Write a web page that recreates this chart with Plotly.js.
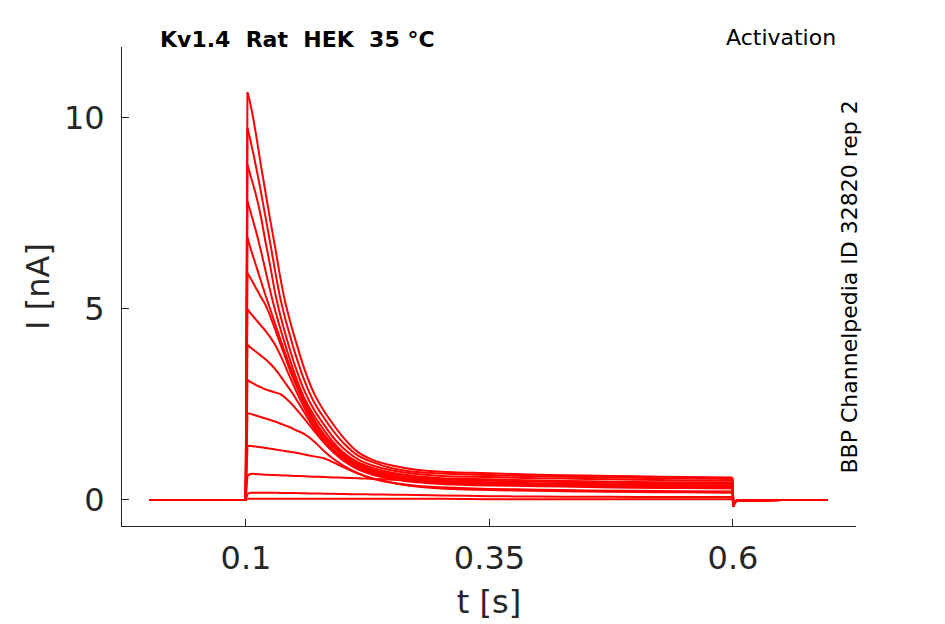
<!DOCTYPE html>
<html>
<head>
<meta charset="utf-8">
<script src="https://cdn.plot.ly/plotly-3.0.1.min.js"></script>
<style>
	body { margin: 0; background: #fff; }
	#grafico { width: 945px; height: 624px; }
</style>
</head>
<body>
<div id="grafico"></div>
<script>
// holding level before the pulse
const tBase = [0.001, 0.05, 0.0997];
const iBase = [0, 0, 0];

// during the step (one array per voltage step)
const tPulse = [0.1015, 0.105, 0.11, 0.115, 0.12, 0.125, 0.13, 0.135, 0.14, 0.145, 0.15,
	0.16, 0.17, 0.18, 0.19, 0.2, 0.215, 0.23, 0.25, 0.275, 0.3, 0.35, 0.4, 0.45, 0.5, 0.55, 0.5995];

const step13 = [10.66, 10.3, 9.6, 8.8, 8.05, 7.3, 6.6, 5.85, 5.2, 4.7, 4.25, 3.42, 2.78, 2.33, 1.96, 1.63, 1.25, 1.05, 0.9, 0.79, 0.74, 0.7, 0.66, 0.64, 0.62, 0.6, 0.59];
const step12 = [9.72, 9.35, 8.75, 8.1, 7.4, 6.7, 5.97, 5.3, 4.77, 4.31, 3.87, 3.12, 2.55, 2.15, 1.79, 1.49, 1.16, 0.99, 0.83, 0.73, 0.69, 0.65, 0.62, 0.6, 0.58, 0.56, 0.55];
const step11 = [8.76, 8.45, 8.0, 7.45, 6.75, 6.1, 5.4, 4.85, 4.38, 3.94, 3.53, 2.85, 2.35, 1.97, 1.62, 1.35, 1.06, 0.9, 0.77, 0.68, 0.63, 0.6, 0.57, 0.55, 0.53, 0.51, 0.5];
const step10 = [7.81, 7.5, 7.05, 6.55, 6.0, 5.45, 4.95, 4.5, 4.08, 3.68, 3.3, 2.66, 2.2, 1.83, 1.5, 1.24, 0.98, 0.84, 0.71, 0.62, 0.57, 0.54, 0.51, 0.49, 0.47, 0.46, 0.45];
const step9 = [6.86, 6.55, 6.15, 5.75, 5.35, 4.98, 4.6, 4.22, 3.86, 3.5, 3.18, 2.58, 2.1, 1.72, 1.43, 1.2, 0.94, 0.79, 0.67, 0.58, 0.54, 0.5, 0.48, 0.46, 0.44, 0.43, 0.42];
const step8 = [5.93, 5.78, 5.55, 5.32, 5.1, 4.8, 4.45, 4.1, 3.75, 3.4, 3.08, 2.5, 2.02, 1.65, 1.37, 1.15, 0.9, 0.75, 0.63, 0.54, 0.5, 0.46, 0.44, 0.42, 0.4, 0.39, 0.38];
const step7 = [4.99, 4.87, 4.72, 4.57, 4.42, 4.25, 4.05, 3.8, 3.52, 3.22, 2.93, 2.4, 1.94, 1.58, 1.3, 1.1, 0.86, 0.71, 0.6, 0.51, 0.47, 0.43, 0.41, 0.39, 0.37, 0.36, 0.35];
const step6 = [4.06, 3.98, 3.88, 3.78, 3.68, 3.56, 3.42, 3.25, 3.07, 2.89, 2.7, 2.28, 1.87, 1.52, 1.25, 1.05, 0.82, 0.68, 0.57, 0.48, 0.44, 0.4, 0.38, 0.36, 0.34, 0.33, 0.32];
const step5 = [3.14, 3.08, 3.01, 2.95, 2.89, 2.85, 2.81, 2.77, 2.68, 2.56, 2.42, 2.12, 1.8, 1.5, 1.24, 1.03, 0.8, 0.66, 0.55, 0.46, 0.42, 0.38, 0.36, 0.34, 0.32, 0.31, 0.3];
const step4 = [2.27, 2.25, 2.21, 2.17, 2.13, 2.09, 2.05, 2.0, 1.95, 1.9, 1.84, 1.72, 1.53, 1.28, 1.07, 0.9, 0.7, 0.56, 0.45, 0.37, 0.33, 0.29, 0.27, 0.25, 0.24, 0.23, 0.22];
const step3 = [1.42, 1.41, 1.4, 1.38, 1.36, 1.34, 1.32, 1.3, 1.28, 1.26, 1.24, 1.19, 1.14, 1.09, 0.98, 0.86, 0.69, 0.56, 0.45, 0.35, 0.3, 0.26, 0.24, 0.22, 0.21, 0.2, 0.19];
const step2 = [0.64, 0.68, 0.68, 0.67, 0.66, 0.655, 0.65, 0.645, 0.64, 0.635, 0.63, 0.62, 0.61, 0.6, 0.59, 0.58, 0.57, 0.55, 0.53, 0.51, 0.49, 0.45, 0.41, 0.38, 0.35, 0.33, 0.31];
const step1 = [0.16, 0.19, 0.19, 0.19, 0.19, 0.19, 0.19, 0.185, 0.185, 0.18, 0.18, 0.175, 0.17, 0.165, 0.16, 0.155, 0.15, 0.145, 0.14, 0.13, 0.12, 0.1, 0.09, 0.085, 0.08, 0.08, 0.08];
const step0 = [0.03, 0.03, 0.03, 0.03, 0.03, 0.03, 0.03, 0.03, 0.03, 0.03, 0.03, 0.03, 0.03, 0.03, 0.03, 0.03, 0.03, 0.03, 0.03, 0.03, 0.03, 0.02, 0.02, 0.02, 0.02, 0.02, 0.02];

// back to holding after the step
const tTail = [0.6005, 0.6015, 0.604, 0.65, 0.697];
const iTail = [-0.18, -0.08, -0.01, 0, 0];

const steps = [step0, step1, step2, step3, step4, step5, step6, step7, step8, step9, step10, step11, step12, step13];

const xTicks = [0.1, 0.35, 0.6];
const xTickText = ['0.1', '0.35', '0.6'];
const yTicks = [0, 5, 10];
const yTickText = ['0', '5', '10'];

const fonte = 'DejaVu Sans, Verdana, sans-serif';
const cinza = '#262626';

function linha(x, y, shape) {
	return {
		x: x,
		y: y,
		mode: 'lines',
		line: { color: '#ff0000', width: 2, shape: shape, smoothing: 0.8 },
		hoverinfo: 'skip',
		showlegend: false
	};
}

plot();
function plot() {
	const data = [];
	const last = tPulse.length - 1;
	steps.forEach(function(s) {
		// sharp edges stay straight, the decay is smoothed
		data.push(linha(tBase.concat([tPulse[0]]), iBase.concat([s[0]]), 'linear'));
		data.push(linha(tPulse, s, 'spline'));
		data.push(linha([tPulse[last]].concat(tTail), [s[last]].concat(iTail), 'linear'));
	});

	const layout = {
		width: 945,
		height: 624,
		margin: { l: 122, r: 89, t: 47, b: 98 },
		paper_bgcolor: '#ffffff',
		plot_bgcolor: '#ffffff',
		font: { family: fonte, color: cinza },
		xaxis: {
			range: [-0.0273, 0.7263],
			tickvals: xTicks,
			ticktext: xTickText,
			ticks: 'inside',
			ticklen: 7,
			tickcolor: cinza,
			tickfont: { size: 32, color: cinza, family: fonte },
			ticklabelstandoff: 4,
			showline: true,
			linecolor: cinza,
			linewidth: 1,
			showgrid: false,
			zeroline: false,
			automargin: false,
			title: { text: 't [s]', font: { size: 32, color: cinza, family: fonte }, standoff: 14 }
		},
		yaxis: {
			range: [-0.68, 11.84],
			tickvals: yTicks,
			ticktext: yTickText,
			ticks: 'inside',
			ticklen: 7,
			tickcolor: cinza,
			tickfont: { size: 32, color: cinza, family: fonte },
			ticklabelstandoff: 10,
			showline: true,
			linecolor: cinza,
			linewidth: 1,
			showgrid: false,
			zeroline: false,
			automargin: false,
			title: { text: 'I [nA]', font: { size: 32, color: cinza, family: fonte }, standoff: 4 }
		},
		annotations: [
			{
				text: '<b>Kv1.4  Rat  HEK  35 °C</b>',
				xref: 'paper', yref: 'paper', x: 0.049, y: 1.0167,
				xanchor: 'left', yanchor: 'middle', showarrow: false,
				font: { size: 22, color: '#000000', family: fonte }
			},
			{
				text: 'Activation',
				xref: 'paper', yref: 'paper', x: 0.9755, y: 1.0188,
				xanchor: 'right', yanchor: 'middle', showarrow: false,
				font: { size: 22, color: '#000000', family: fonte }
			},
			{
				text: 'BBP Channelpedia ID 32820 rep 2',
				xref: 'paper', yref: 'paper', x: 0.9905, y: 0.498,
				xanchor: 'center', yanchor: 'middle', showarrow: false,
				textangle: -90,
				font: { size: 22, color: '#000000', family: fonte }
			}
		]
	};

	Plotly.newPlot('grafico', data, layout, { staticPlot: true, displayModeBar: false });
}
</script>
</body>
</html>
